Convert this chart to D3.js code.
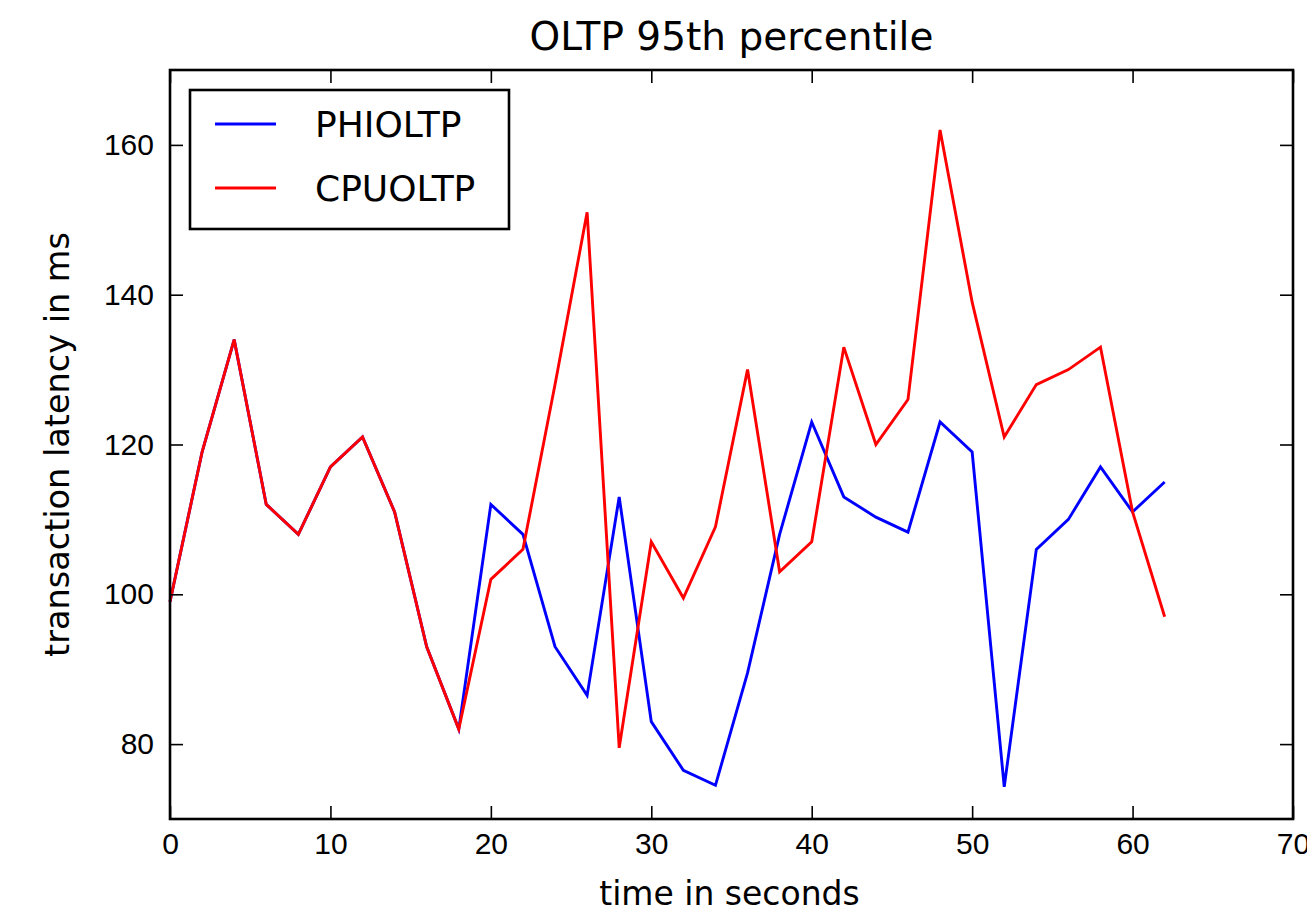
<!DOCTYPE html>
<html>
<head>
<meta charset="utf-8">
<script src="https://cdn.jsdelivr.net/npm/d3@7"></script>
<style>
  html, body { margin: 0; padding: 0; background: #fff; }
  svg { display: block; font-family: "DejaVu Sans", sans-serif; }
</style>
</head>
<body>
<svg id="chart" width="1307" height="915"></svg>
<script>
// ---- data ----
const timeSeconds = [0, 2, 4, 6, 8, 10, 12, 14, 16, 18, 20, 22, 24, 26, 28, 30,
                     32, 34, 36, 38, 40, 42, 44, 46, 48, 50, 52, 54, 56, 58, 60, 62];
const phiOltp = [99, 119, 134, 112, 108, 117, 121, 111, 93, 82, 112, 108, 93, 86.5, 113, 83,
                 76.5, 74.5, 89.5, 108, 123, 113, 110.3, 108.3, 123, 119, 74.3, 106, 110, 117, 111, 115];
const cpuOltp = [99, 119, 134, 112, 108, 117, 121, 111, 93, 82, 102, 106, 128, 151, 79.5, 107,
                 99.5, 109, 130, 103, 107, 133, 120, 126, 162, 139, 121, 128, 130, 133, 111, 97];
const seriesNames = ["PHIOLTP", "CPUOLTP"];
const seriesColors = ["#0000ff", "#ff0000"];
const xTicks = [0, 10, 20, 30, 40, 50, 60, 70];
const yTicks = [80, 100, 120, 140, 160];
const titleText = "OLTP 95th percentile";
const xLabel = "time in seconds";
const yLabel = "transaction latency in ms";

// ---- layout ----
const L = 170, R = 1293, T = 70, B = 819;
const svg = d3.select("#chart");

const x = d3.scaleLinear().domain([0, 70]).range([L, R]);
const y = d3.scaleLinear().domain([70, 170]).range([B, T]);

// lines
const line = d3.line().x((d, i) => x(timeSeconds[i])).y(d => y(d));
const seriesData = [phiOltp, cpuOltp];
seriesData.forEach((s, k) => {
  svg.append("path").datum(s)
    .attr("d", line)
    .attr("fill", "none")
    .attr("stroke", seriesColors[k])
    .attr("stroke-width", 2.9)
    .attr("stroke-linejoin", "miter");
});

// axes (ticks inward, on all four sides)
const tickLen = 13;
function styleAxis(g) {
  g.select(".domain").remove();
  g.selectAll(".tick line").attr("stroke", "#000").attr("stroke-width", 1.6);
  g.selectAll(".tick text").attr("fill", "#000")
    .style("font-size", "30px");
}
const gx = svg.append("g").attr("transform", `translate(0,${B})`)
  .call(d3.axisBottom(x).tickValues(xTicks).tickFormat(d3.format("d"))
    .tickSizeInner(-tickLen).tickSizeOuter(0).tickPadding(12));
styleAxis(gx);
gx.selectAll(".tick text").attr("dy", "0.78em");

const gxTop = svg.append("g").attr("transform", `translate(0,${T})`)
  .call(d3.axisTop(x).tickValues(xTicks).tickFormat("").tickSizeInner(-tickLen).tickSizeOuter(0));
styleAxis(gxTop);

const gy = svg.append("g").attr("transform", `translate(${L},0)`)
  .call(d3.axisLeft(y).tickValues(yTicks).tickFormat(d3.format("d"))
    .tickSizeInner(-tickLen).tickSizeOuter(0).tickPadding(16));
styleAxis(gy);

const gyRight = svg.append("g").attr("transform", `translate(${R},0)`)
  .call(d3.axisRight(y).tickValues(yTicks).tickFormat("").tickSizeInner(-tickLen).tickSizeOuter(0));
styleAxis(gyRight);

// frame
svg.append("rect").attr("x", L).attr("y", T).attr("width", R - L).attr("height", B - T)
  .attr("fill", "none").attr("stroke", "#000").attr("stroke-width", 2.6);

// title and labels
svg.append("text")
  .attr("x", (L + R) / 2).attr("y", 50)
  .attr("text-anchor", "middle")
  .style("font-size", "39px")
  .attr("fill", "#000")
  .text(titleText);
svg.append("text")
  .attr("x", (L + R) / 2 - 2).attr("y", 905)
  .attr("text-anchor", "middle")
  .style("font-size", "33px")
  .attr("fill", "#000")
  .text(xLabel);
svg.append("text")
  .attr("transform", `translate(69,${(T + B) / 2}) rotate(-90)`)
  .attr("text-anchor", "middle")
  .style("font-size", "33.5px")
  .attr("fill", "#000")
  .text(yLabel);

// legend
const lg = svg.append("g");
lg.append("rect").attr("x", 190).attr("y", 90).attr("width", 319).attr("height", 139)
  .attr("fill", "#fff").attr("stroke", "#000").attr("stroke-width", 2.6);
const legendY = [124, 188];
seriesNames.forEach((name, k) => {
  lg.append("line").attr("x1", 215).attr("x2", 276)
    .attr("y1", legendY[k]).attr("y2", legendY[k])
    .attr("stroke", seriesColors[k]).attr("stroke-width", 2.9);
  lg.append("text")
    .attr("x", 315).attr("y", legendY[k])
    .attr("dy", "0.36em")
    .style("font-size", "36px")
    .attr("fill", "#000")
    .text(name);
});
</script>
</body>
</html>
